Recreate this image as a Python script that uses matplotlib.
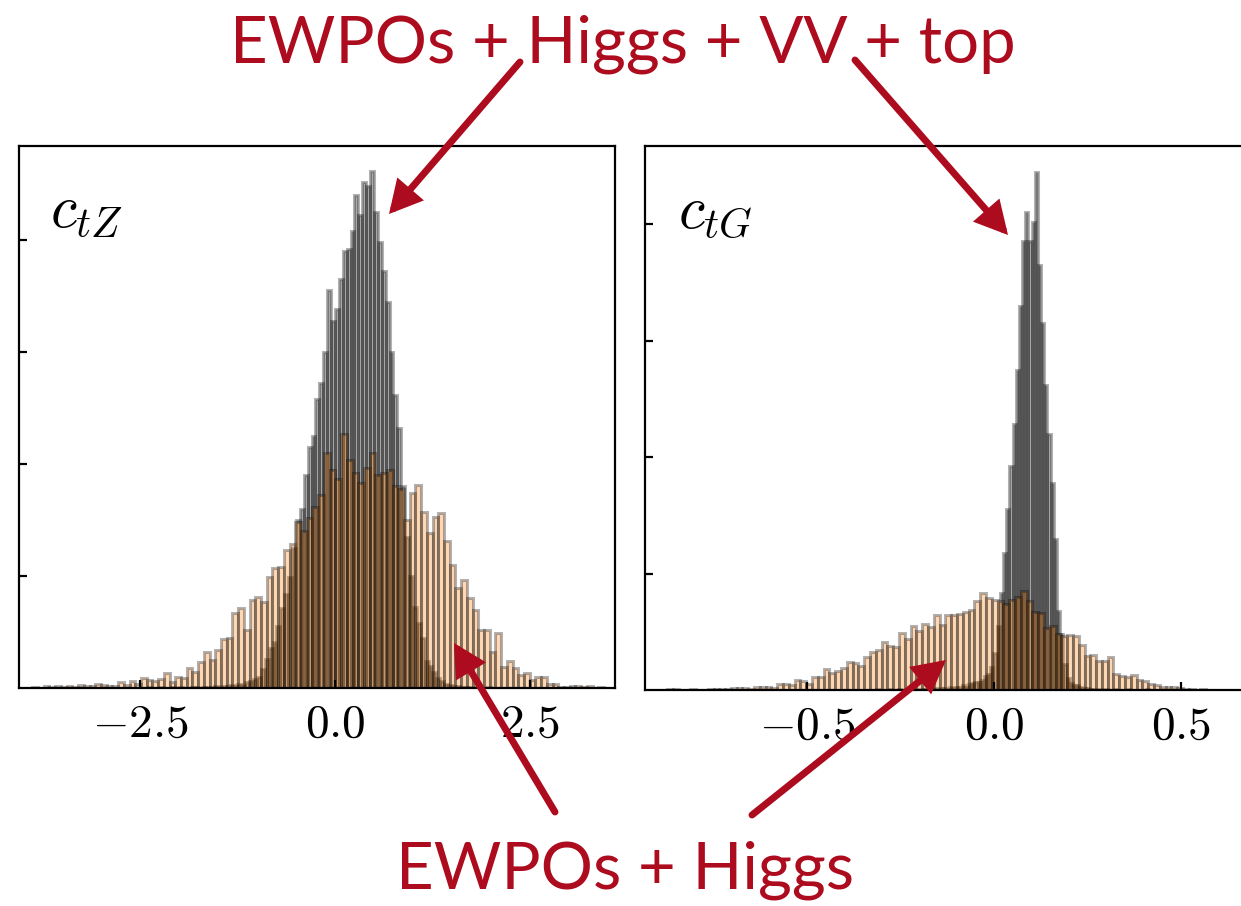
import numpy as np
import matplotlib
matplotlib.use("Agg")
import matplotlib.pyplot as plt
from matplotlib.patches import FancyArrowPatch, ArrowStyle

plt.rcParams["mathtext.fontset"] = "cm"

# ---------------- data: posterior histograms (counts per bin) ----------------
# c_tZ, EWPOs + Higgs (wide, orange)
ctz_wide_range = (-3.88, 3.45)
ctz_wide = [1, 0, 2, 1, 2, 1, 2, 1, 3, 2, 2, 4, 3, 2, 2, 5, 3, 6, 4, 9,
            7, 6, 8, 13, 5, 10, 9, 18, 14, 23, 32, 25, 34, 44, 45, 67, 71, 52, 79, 81,
            77, 99, 107, 108, 123, 129, 148, 140, 152, 162, 172, 210, 195, 187, 227, 204, 192, 183, 196, 210,
            190, 192, 195, 180, 178, 150, 174, 181, 157, 138, 153, 156, 131, 110, 89, 96, 80, 70, 52, 52,
            32, 49, 19, 24, 18, 12, 13, 7, 10, 10, 4, 4, 1, 1, 2, 2, 1, 2, 0, 1]

# c_tZ, EWPOs + Higgs + VV + top (narrow, dark)
ctz_full_range = (-2.5, 2.5)
ctz_full = [0, 0, 1, 0, 0, 1, 0, 0, 1, 0, 1, 0, 0, 1, 1, 0, 1, 1, 1, 2,
            1, 2, 2, 3, 2, 4, 3, 5, 6, 8,
            10, 17, 26, 36, 41, 55, 71, 84, 99, 125,
            150, 160, 190, 215, 225, 258, 272, 300, 355, 328,
            338, 365, 390, 392, 408, 440, 422, 452, 448, 462,
            425, 398, 372, 345, 300, 262, 232, 180, 135, 100,
            72, 58, 45, 24, 20, 14, 9, 6, 4, 3,
            2, 2, 1, 1, 1, 0, 1, 0, 0, 1, 0, 0, 0, 0, 0, 0, 0, 0, 0, 0]

# c_tG, EWPOs + Higgs (wide, orange)
ctg_wide_range = (-0.905, 0.645)
ctg_wide = [0, 0, 1, 1, 0, 0, 1, 0, 0, 1, 1, 1, 1, 2, 2, 2, 1, 3, 3, 3,
            2, 5, 5, 4, 9, 8, 5, 11, 11, 18, 15, 16, 19, 24, 23, 21, 28, 33, 34, 41,
            38, 37, 49, 44, 55, 51, 57, 54, 64, 56, 64, 64, 65, 67, 69, 76, 83, 79, 77, 76,
            74, 77, 80, 85, 76, 67, 66, 53, 55, 48, 46, 47, 46, 39, 29, 30, 25, 25, 28, 14,
            12, 11, 13, 9, 8, 5, 4, 3, 3, 3, 2, 1, 1, 0, 1, 0, 0, 0, 0, 0]

# c_tG, EWPOs + Higgs + VV + top (narrow, dark)
ctg_full_range = (-0.35, 0.5)
ctg_full = [0, 0, 0, 0, 1, 0, 0, 0, 1, 0, 0, 1, 0, 0, 1, 0, 1, 0, 1, 1,
            1, 1, 2, 1, 2, 2, 1, 3, 2, 3,
            3, 4, 3, 5, 6, 7, 7, 9, 12, 14,
            20, 32, 55, 83, 118, 155, 192, 228, 275, 330,
            385, 410, 385, 402, 445, 365, 315, 262, 220, 178,
            130, 68, 48, 22, 10, 6, 4, 4, 3, 2,
            2, 1, 1, 0, 1, 0, 1, 0, 0, 1, 0, 0, 0, 1, 0, 0, 0, 0, 0, 1,
            0, 0, 0, 0, 0, 0, 0, 0, 0, 0]

ctz_xticks = [-2.5, 0.0, 2.5]
ctz_xticklabels = [r"$-2.5$", r"$0.0$", r"$2.5$"]
ctg_xticks = [-0.5, 0.0, 0.5]
ctg_xticklabels = [r"$-0.5$", r"$0.0$", r"$0.5$"]
yticks = [100, 200, 300, 400]

labels = [r"$c_{tZ}$", r"$c_{tG}$"]
top_note = "EWPOs + Higgs + VV + top"
bottom_note = "EWPOs + Higgs"

# ---------------- styling ----------------
W, H = 1241, 906
RED = "#AD0B1E"
ORANGE_FACE = (1.0, 0.5, 0.05, 0.30)
DARK_FACE = (0.0, 0.0, 0.0, 0.32)
EDGE = (0.0, 0.0, 0.0, 0.3)

fig = plt.figure(figsize=(W / 100, H / 100), dpi=100)


def px_axes(x0, y0, x1, y1):
    """Axes from pixel box (left, top, right, bottom) measured from the top-left corner."""
    return fig.add_axes([x0 / W, 1 - y1 / H, (x1 - x0) / W, (y1 - y0) / H])


def draw_hist(ax, rng, counts, face):
    edges = np.linspace(rng[0], rng[1], len(counts) + 1)
    ax.bar(edges[:-1], counts, width=np.diff(edges), align="edge",
           color=face, edgecolor=EDGE, linewidth=2.2)


def style(ax, xlim, ylim, xticks, xticklabels):
    ax.set_xlim(*xlim)
    ax.set_ylim(*ylim)
    ax.set_xticks(xticks)
    ax.set_xticklabels(xticklabels, fontsize=34)
    ax.set_yticks(yticks)
    ax.set_yticklabels([])
    ax.tick_params(axis="both", direction="in", length=6, width=1.6, pad=10,
                   top=False, right=False)
    for s in ax.spines.values():
        s.set_linewidth(1.6)


# left panel: c_tZ
ax1 = px_axes(19, 146, 615, 688)
draw_hist(ax1, ctz_full_range, ctz_full, DARK_FACE)
draw_hist(ax1, ctz_wide_range, ctz_wide, ORANGE_FACE)
style(ax1, (-4.051, 3.590), (0, 542 / 1.12), ctz_xticks, ctz_xticklabels)
ax1.text(0.052, 0.85, labels[0], transform=ax1.transAxes, fontsize=43,
         ha="left", va="baseline")

# right panel: c_tG (runs past the right edge of the figure)
ax2 = px_axes(645, 146, 1247, 690)
draw_hist(ax2, ctg_full_range, ctg_full, DARK_FACE)
draw_hist(ax2, ctg_wide_range, ctg_wide, ORANGE_FACE)
style(ax2, (-0.9332, 0.6765), (0, 544 / 1.165), ctg_xticks, ctg_xticklabels)
ax2.text(0.055, 0.85, labels[1], transform=ax2.transAxes, fontsize=43,
         ha="left", va="baseline")

# ---------------- annotations ----------------
fig.text(623 / W, 1 - 62 / H, top_note, color=RED, fontsize=47,
         family="Lato", ha="center", va="baseline")
fig.text(625 / W, 1 - 889 / H, bottom_note, color=RED, fontsize=47,
         family="Lato", ha="center", va="baseline")

arrow_style = ArrowStyle("-|>", head_length=16, head_width=8.5)
arrows = [((520, 62), (389, 214)),
          ((855, 60), (1008, 235)),
          ((555, 812), (454, 643)),
          ((752, 815), (946, 660))]
for (xa, ya), (xb, yb) in arrows:
    fig.patches.append(FancyArrowPatch(
        (xa / W, 1 - ya / H), (xb / W, 1 - yb / H),
        transform=fig.transFigure, arrowstyle=arrow_style, mutation_scale=1,
        color=RED, linewidth=5.0, shrinkA=0, shrinkB=0, joinstyle="miter",
        zorder=10))

fig.savefig("out.png", dpi=100)
